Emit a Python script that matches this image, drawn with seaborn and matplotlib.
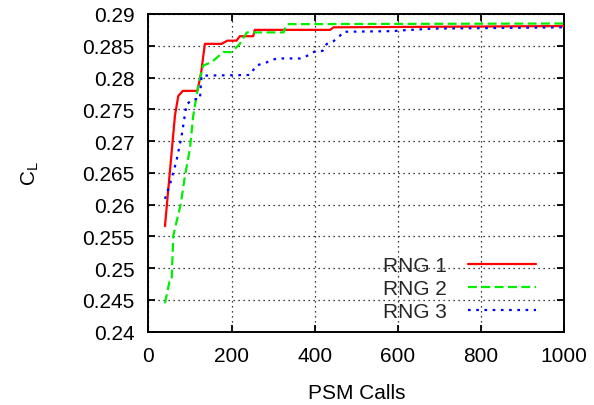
import matplotlib
matplotlib.use("Agg")
import matplotlib.pyplot as plt
import seaborn as sns
import pandas as pd

# PSM call counts and lift coefficient histories for three RNG seeds
rng1_calls = [40, 64, 72, 83, 118, 127, 136, 176, 190, 212, 220, 252, 256, 437, 445, 1000]
rng1_cl = [0.2566, 0.2740, 0.2771, 0.2779, 0.2779, 0.2808, 0.2853, 0.2853, 0.2858, 0.2858,
           0.2865, 0.2865, 0.2875, 0.2875, 0.2879, 0.2881]

rng2_calls = [40, 51, 56, 60, 78, 88, 100, 108, 120, 132, 152, 180, 200, 220, 237, 325, 333, 1000]
rng2_cl = [0.2445, 0.2479, 0.2480, 0.2551, 0.2601, 0.2645, 0.2688, 0.2740, 0.2787, 0.2819,
           0.2824, 0.2840, 0.2840, 0.2853, 0.2871, 0.2871, 0.2884, 0.2885]

rng3_calls = [40, 52, 67, 80, 92, 108, 124, 128, 244, 260, 285, 308, 365, 385, 400, 419, 429,
              445, 461, 469, 588, 605, 685, 1000]
rng3_cl = [0.2609, 0.2632, 0.2667, 0.2708, 0.2758, 0.2766, 0.2766, 0.2803, 0.2804, 0.2819,
           0.2824, 0.2830, 0.2830, 0.2835, 0.2841, 0.2842, 0.2853, 0.2857, 0.2866, 0.2872,
           0.2873, 0.2874, 0.2877, 0.2879]

series_names = ["RNG 1", "RNG 2", "RNG 3"]
x_ticks = [0, 200, 400, 600, 800, 1000]
y_ticks = [0.24, 0.245, 0.25, 0.255, 0.26, 0.265, 0.27, 0.275, 0.28, 0.285, 0.29]
y_tick_labels = ["0.24", "0.245", "0.25", "0.255", "0.26", "0.265", "0.27", "0.275", "0.28",
                 "0.285", "0.29"]

frames = []
for name, xs, ys in zip(series_names, [rng1_calls, rng2_calls, rng3_calls],
                        [rng1_cl, rng2_cl, rng3_cl]):
    frames.append(pd.DataFrame({"calls": xs, "cl": ys, "run": name}))
df = pd.concat(frames, ignore_index=True)

sns.set_theme(style="ticks")
plt.rcParams["font.family"] = ["Liberation Sans", "DejaVu Sans"]
fs = 15
plt.rcParams["font.size"] = fs

fig = plt.figure(figsize=(5.94, 4.06), dpi=100)
ax = fig.add_axes([0.2497, 0.1806, 0.7003, 0.7825])

palette = {"RNG 1": "#ff0000", "RNG 2": "#00ee00", "RNG 3": "#0000ff"}
dashes = {"RNG 1": "", "RNG 2": (4, 2), "RNG 3": (1.2, 2.5)}
sns.lineplot(data=df, x="calls", y="cl", hue="run", style="run", palette=palette,
             dashes=dashes, linewidth=1.6, sort=False, estimator=None, ax=ax, zorder=3)

ax.set_xlim(0, 1000)
ax.set_ylim(0.24, 0.29)
ax.set_xticks(x_ticks)
ax.set_xticklabels([str(t) for t in x_ticks], fontsize=fs, color="black")
ax.set_yticks(y_ticks)
ax.set_yticklabels(y_tick_labels, fontsize=fs, color="black")
ax.tick_params(direction="in", length=5, width=1.3, top=True, right=True,
               colors="black", pad=10)
for s in ax.spines.values():
    s.set_color("black")
    s.set_linewidth(1.4)

ax.grid(True, color="black", linestyle=(0, (1, 3)), linewidth=0.9)

ax.set_xlabel("PSM Calls", fontsize=fs, color="black", labelpad=13)
ax.set_ylabel("C$_\\mathregular{L}$", fontsize=fs, color="black", labelpad=30)

leg = ax.legend(loc="lower right", frameon=False, markerfirst=False, fontsize=fs,
                handlelength=3.3, handletextpad=1.0, labelspacing=0.2,
                borderaxespad=0.1, bbox_to_anchor=(0.958, 0.0))
for t in leg.get_texts():
    t.set_ha("right")

fig.savefig("out.png", dpi=100, facecolor="white")
